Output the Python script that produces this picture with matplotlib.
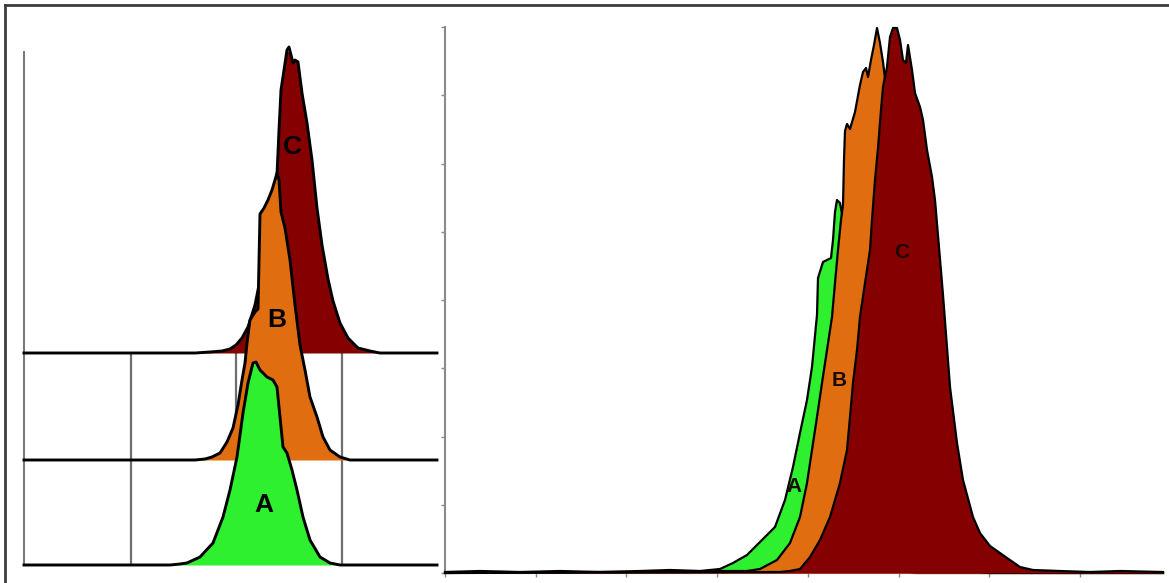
import numpy as np
import matplotlib.pyplot as plt
from matplotlib.lines import Line2D

W, H = 1169, 583

# ---------------- left panel: offset histograms (x = channel, y = counts) ----------------
left_a_x = [0, 146, 156, 163, 176, 189, 199, 206, 213, 219, 224, 229, 232, 236, 243, 249, 253,
            256, 259, 263, 268, 273, 279, 286, 296, 306, 316, 413]
left_a_y = [0, 0, 1, 2, 8, 22, 48, 75, 108, 152, 182, 202, 203, 195, 188, 185, 178,
            148, 118, 112, 95, 75, 48, 25, 8, 2, 0, 0]

left_b_x = [0, 171, 181, 188, 196, 203, 209, 214, 218, 221, 223, 226, 231, 234, 236, 240, 244,
            248, 251, 253, 255, 257, 261, 266, 271, 276, 281, 286, 293, 299, 306, 316, 326, 413]
left_b_y = [0, 0, 1, 3, 7, 18, 32, 55, 80, 97, 117, 140, 148, 151, 246, 252, 260,
            270, 280, 287, 280, 248, 232, 200, 155, 115, 90, 63, 43, 23, 10, 3, 0, 0]

left_c_x = [0, 171, 186, 198, 206, 212, 218, 224, 231, 238, 244, 249, 253, 255, 257, 260, 263,
            265, 267, 269, 271, 274, 278, 283, 288, 293, 298, 304, 309, 316, 324, 334, 346, 356, 413]
left_c_y = [0, 0, 1, 2, 4, 8, 15, 26, 48, 83, 123, 158, 178, 223, 263, 283, 303,
            306, 298, 290, 293, 291, 260, 230, 193, 145, 108, 74, 52, 30, 15, 5, 2, 0, 0]

left_offsets = [0, 105, 212]
left_grid = [107, 212, 318]

# ---------------- right panel: overlaid histograms ----------------
right_a_x = [0, 35, 75, 115, 155, 195, 225, 255, 275, 288, 302, 315, 330, 340, 348, 355, 362,
             367, 372, 373, 378, 386, 388, 390, 392, 395, 400, 407, 413, 419, 425, 433, 443,
             455, 470, 718]
right_a_y = [1, 2, 1, 2, 1, 2, 3, 2, 4, 10, 18, 31, 46, 73, 106, 140, 173,
             206, 258, 295, 311, 315, 333, 361, 373, 370, 343, 283, 213, 143, 83, 38, 13,
             3, 0, 0]

right_b_x = [0, 155, 245, 275, 302, 315, 332, 345, 355, 362, 367, 372, 377, 382, 387, 390, 393,
             396, 398, 399, 400, 402, 405, 410, 415, 418, 421, 423, 426, 429, 432, 435, 438,
             445, 455, 465, 475, 487, 505, 525, 545, 718]
right_b_y = [0, 1, 1, 2, 2, 4, 13, 30, 56, 90, 123, 156, 190, 223, 256, 290, 323,
             353, 368, 413, 442, 449, 444, 461, 488, 501, 505, 496, 513, 528, 545, 530, 511,
             453, 343, 213, 123, 53, 13, 2, 0, 0]

right_c_x = [0, 335, 345, 355, 365, 375, 385, 395, 402, 405, 408, 412, 415, 420, 425, 427, 430,
             433, 436, 438, 442, 445, 448, 452, 455, 458, 461, 463, 467, 470, 475, 478, 482,
             487, 490, 498, 505, 512, 518, 528, 535, 545, 562, 575, 588, 615, 645, 675, 718]
right_c_y = [0, 1, 2, 4, 16, 33, 56, 90, 123, 156, 190, 223, 256, 290, 323, 353, 393,
             425, 463, 486, 506, 536, 545, 545, 533, 513, 510, 528, 503, 480, 466, 453, 423,
             396, 373, 278, 186, 130, 93, 56, 40, 27, 15, 6, 3, 2, 1, 2, 1]

labels = ["A", "B", "C"]
colors = ["#2EF02E", "#E06E10", "#850000"]

fig = plt.figure(figsize=(W / 100, H / 100), dpi=100)

# ---- left axes ----
axl = fig.add_axes([24 / W, 18 / H, 413 / W, 513 / H])
axl.set_xlim(0, 413)
axl.set_ylim(0, 513)
axl.vlines(left_grid, 0, left_offsets[2], color="#6e6e6e", lw=1.6, zorder=0)

left_series = [(left_a_x, left_a_y), (left_b_x, left_b_y), (left_c_x, left_c_y)]
label_pos_left = [(240, 60), (253, 245), (268, 418)]
# draw top row first so the lower rows sit in front
for i in [2, 1, 0]:
    xs, ys = left_series[i]
    off = left_offsets[i]
    yy = np.array(ys) + off
    axl.fill_between(xs, off, yy, color=colors[i], lw=0, zorder=2 + (2 - i) * 2)
    axl.plot(xs, yy, color="black", lw=2.1, zorder=3 + (2 - i) * 2, clip_on=False,
             solid_joinstyle="round")
    axl.text(*label_pos_left[i], labels[i], fontsize=19, fontweight="bold",
             family="Liberation Sans", ha="center", va="center", zorder=10)

for s in ["top", "right", "bottom"]:
    axl.spines[s].set_visible(False)
axl.spines["left"].set_color("#7a7a7a")
axl.spines["left"].set_linewidth(1.5)
axl.set_xticks([])
axl.set_yticks([])

# ---- right axes ----
axr = fig.add_axes([445 / W, 10 / H, 718 / W, 546 / H])
axr.set_xlim(0, 718)
axr.set_ylim(0, 546)

right_series = [(right_a_x, right_a_y), (right_b_x, right_b_y), (right_c_x, right_c_y)]
label_pos_right = [(349, 86), (394, 193), (457, 321)]
for i in range(3):
    xs, ys = right_series[i]
    axr.fill_between(xs, 0, ys, color=colors[i], lw=0, zorder=2 + i * 2)
    axr.plot(xs, ys, color="black", lw=1.6, zorder=3 + i * 2, clip_on=False,
             solid_joinstyle="round")
for i in range(3):
    axr.text(*label_pos_right[i], labels[i], fontsize=15, fontweight="bold",
             family="Liberation Sans", ha="center", va="center", zorder=10,
             color="#1a0a00")

for s in ["top", "right"]:
    axr.spines[s].set_visible(False)
for s in ["left", "bottom"]:
    axr.spines[s].set_color("#8a8a8a")
    axr.spines[s].set_linewidth(1.5)
axr.set_xticks(np.arange(0, 718, 90.7))
axr.set_yticks(np.linspace(0, 546, 9))
axr.tick_params(length=3, width=1, color="#8a8a8a", labelbottom=False, labelleft=False)

# outer frame (top and left edges)
fig.add_artist(Line2D([5 / W, 5 / W], [0, 1 - 5 / H], color="#3c3c3c", lw=2))
fig.add_artist(Line2D([5 / W, 1], [1 - 5 / H, 1 - 5 / H], color="#3c3c3c", lw=2))

plt.savefig("out.png", dpi=100)
plt.close()
